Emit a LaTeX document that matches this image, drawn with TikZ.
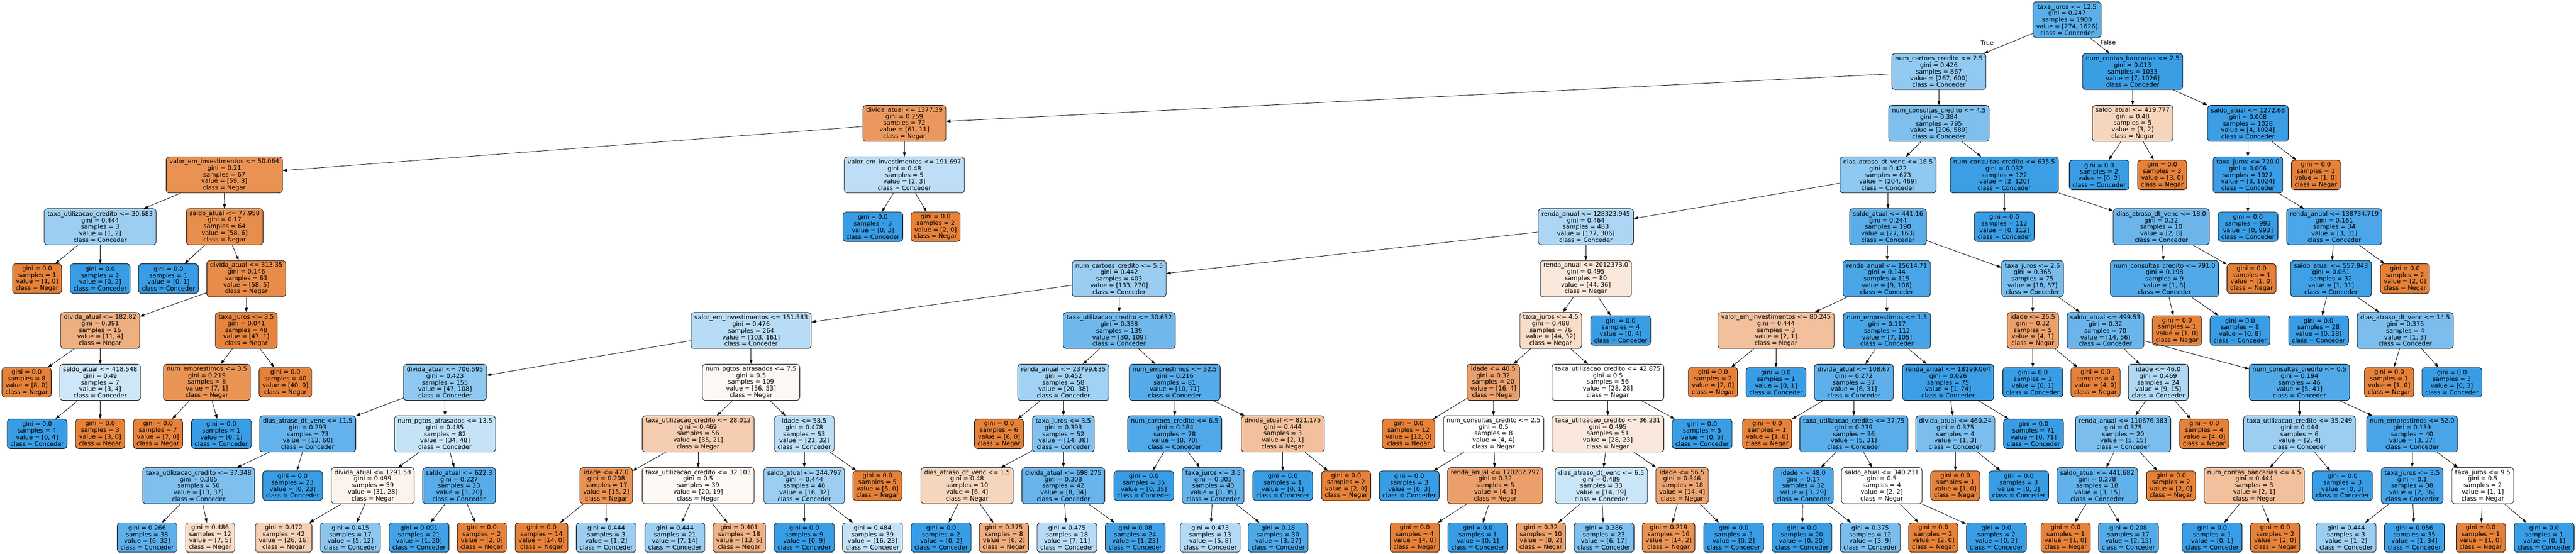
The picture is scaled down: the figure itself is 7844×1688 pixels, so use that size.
\documentclass[tikz,border=0pt]{standalone}
\usepackage{fontspec}
\setmainfont{DejaVu Sans}
\usetikzlibrary{arrows.meta}

\definecolor{negar}{HTML}{E58139}
\definecolor{conceder}{HTML}{399DE5}

% class and fill of a node from its value [a, b]
\newcommand{\setfill}[2]{%
  \ifnum#2>#1\relax\def\ccls{Conceder}\def\ccol{conceder}\else\def\ccls{Negar}\def\ccol{negar}\fi
  \pgfmathsetmacro{\cpct}{100*(abs(#1-#2)/max(#1,#2))}}
\newcommand{\splitn}[8]{\setfill{#7}{#8}%
  \node[splitbox, fill=\ccol!\cpct!white] (#1) at (#2,#3) {#4\\gini = #5\\samples = #6\\value = [#7, #8]\\class = \ccls};}
\newcommand{\leafn}[7]{\setfill{#6}{#7}%
  \node[leafbox, fill=\ccol!\cpct!white] (#1) at (#2,#3) {gini = #4\\samples = #5\\value = [#6, #7]\\class = \ccls};}

\begin{document}
\begin{tikzpicture}[x=1pt, y=-1pt,
	tbox/.style={draw, rounded corners=10pt, line width=1.33pt, align=center, inner xsep=10pt, inner ysep=0pt, font=\fontsize{18.6}{20}\selectfont},
	splitbox/.style={tbox, minimum height=110pt},
	leafbox/.style={tbox, minimum height=90pt},
	link/.style={line width=1.33pt, -{Triangle[length=13pt,width=9pt]}},
	lbl/.style={font=\fontsize{18.6}{20}\selectfont}]
	\useasboundingbox (0,0) rectangle (7844,1688);
	%\draw[help lines] (0,0) grid[step=100] (7844,1688);
	\splitn{n0}{6294}{60}{taxa\_juros <= 12.5}{0.247}{1900}{274}{1626}
	\splitn{n1}{5904}{218}{num\_cartoes\_credito <= 2.5}{0.426}{867}{267}{600}
	\splitn{n2}{2754}{376}{divida\_atual <= 1377.39}{0.259}{72}{61}{11}
	\splitn{n3}{683}{533}{valor\_em\_investimentos <= 50.064}{0.21}{67}{59}{8}
	\splitn{n4}{305}{691}{taxa\_utilizacao\_credito <= 30.683}{0.444}{3}{1}{2}
	\leafn{n5}{113}{849}{0.0}{1}{1}{0}
	\leafn{n6}{305}{849}{0.0}{2}{0}{2}
	\splitn{n7}{684}{691}{saldo\_atual <= 77.958}{0.17}{64}{58}{6}
	\leafn{n8}{513}{849}{0.0}{1}{0}{1}
	\splitn{n9}{750}{849}{divida\_atual <= 313.35}{0.146}{63}{58}{5}
	\splitn{n10}{305}{1007}{divida\_atual <= 182.82}{0.391}{15}{11}{4}
	\leafn{n11}{81}{1165}{0.0}{8}{8}{0}
	\splitn{n12}{305}{1165}{saldo\_atual <= 418.548}{0.49}{7}{3}{4}
	\leafn{n13}{113}{1322}{0.0}{4}{0}{4}
	\leafn{n14}{305}{1322}{0.0}{3}{3}{0}
	\splitn{n15}{750}{1007}{taxa\_juros <= 3.5}{0.041}{48}{47}{1}
	\splitn{n16}{630}{1165}{num\_emprestimos <= 3.5}{0.219}{8}{7}{1}
	\leafn{n17}{481}{1322}{0.0}{7}{7}{0}
	\leafn{n18}{674}{1322}{0.0}{1}{0}{1}
	\leafn{n19}{869}{1165}{0.0}{40}{40}{0}
	\splitn{n20}{2754}{533}{valor\_em\_investimentos <= 191.697}{0.48}{5}{2}{3}
	\leafn{n21}{2658}{691}{0.0}{3}{0}{3}
	\leafn{n22}{2849}{691}{0.0}{2}{2}{0}
	\splitn{n23}{5904}{376}{num\_consultas\_credito <= 4.5}{0.384}{795}{206}{589}
	\splitn{n24}{5749}{533}{dias\_atraso\_dt\_venc <= 16.5}{0.422}{673}{204}{469}
	\splitn{n25}{4829}{691}{renda\_anual <= 128323.945}{0.464}{483}{177}{306}
	\splitn{n26}{3408}{849}{num\_cartoes\_credito <= 5.5}{0.442}{403}{133}{270}
	\splitn{n27}{2287}{1007}{valor\_em\_investimentos <= 151.583}{0.476}{264}{103}{161}
	\splitn{n28}{1355}{1165}{divida\_atual <= 706.595}{0.423}{155}{47}{108}
	\splitn{n29}{937}{1322}{dias\_atraso\_dt\_venc <= 11.5}{0.293}{73}{13}{60}
	\splitn{n30}{605}{1480}{taxa\_utilizacao\_credito <= 37.348}{0.385}{50}{13}{37}
	\leafn{n31}{448}{1638}{0.266}{38}{6}{32}
	\leafn{n32}{640}{1638}{0.486}{12}{7}{5}
	\leafn{n33}{891}{1480}{0.0}{23}{0}{23}
	\splitn{n34}{1355}{1322}{num\_pgtos\_atrasados <= 13.5}{0.485}{82}{34}{48}
	\splitn{n35}{1135}{1480}{divida\_atual <= 1291.58}{0.499}{59}{31}{28}
	\leafn{n36}{864}{1638}{0.472}{42}{26}{16}
	\leafn{n37}{1067}{1638}{0.415}{17}{5}{12}
	\splitn{n38}{1398}{1480}{saldo\_atual <= 622.3}{0.227}{23}{3}{20}
	\leafn{n39}{1276}{1638}{0.091}{21}{1}{20}
	\leafn{n40}{1467}{1638}{0.0}{2}{2}{0}
	\splitn{n41}{2287}{1165}{num\_pgtos\_atrasados <= 7.5}{0.5}{109}{56}{53}
	\splitn{n42}{2126}{1322}{taxa\_utilizacao\_credito <= 28.012}{0.469}{56}{35}{21}
	\splitn{n43}{1846}{1480}{idade <= 47.0}{0.208}{17}{15}{2}
	\leafn{n44}{1649}{1638}{0.0}{14}{14}{0}
	\leafn{n45}{1846}{1638}{0.444}{3}{1}{2}
	\splitn{n46}{2126}{1480}{taxa\_utilizacao\_credito <= 32.103}{0.5}{39}{20}{19}
	\leafn{n47}{2055}{1638}{0.444}{21}{7}{14}
	\leafn{n48}{2251}{1638}{0.401}{18}{13}{5}
	\splitn{n49}{2449}{1322}{idade <= 58.5}{0.478}{53}{21}{32}
	\splitn{n50}{2449}{1480}{saldo\_atual <= 244.797}{0.444}{48}{16}{32}
	\leafn{n51}{2449}{1638}{0.0}{9}{0}{9}
	\leafn{n52}{2657}{1638}{0.484}{39}{16}{23}
	\leafn{n53}{2672}{1480}{0.0}{5}{5}{0}
	\splitn{n54}{3408}{1007}{taxa\_utilizacao\_credito <= 30.652}{0.338}{139}{30}{109}
	\splitn{n55}{3238}{1165}{renda\_anual <= 23799.635}{0.452}{58}{20}{38}
	\leafn{n56}{3042}{1322}{0.0}{6}{6}{0}
	\splitn{n57}{3238}{1322}{taxa\_juros <= 3.5}{0.393}{52}{14}{38}
	\splitn{n58}{2945}{1480}{dias\_atraso\_dt\_venc <= 1.5}{0.48}{10}{6}{4}
	\leafn{n59}{2866}{1638}{0.0}{2}{0}{2}
	\leafn{n60}{3057}{1638}{0.375}{8}{6}{2}
	\splitn{n61}{3238}{1480}{divida\_atual <= 698.275}{0.308}{42}{8}{34}
	\leafn{n62}{3249}{1638}{0.475}{18}{7}{11}
	\leafn{n63}{3457}{1638}{0.08}{24}{1}{23}
	\splitn{n64}{3577}{1165}{num\_emprestimos <= 52.5}{0.216}{81}{10}{71}
	\splitn{n65}{3577}{1322}{num\_cartoes\_credito <= 6.5}{0.184}{78}{8}{70}
	\leafn{n66}{3483}{1480}{0.0}{35}{0}{35}
	\splitn{n67}{3694}{1480}{taxa\_juros <= 3.5}{0.303}{43}{8}{35}
	\leafn{n68}{3685}{1638}{0.473}{13}{5}{8}
	\leafn{n69}{3892}{1638}{0.18}{30}{3}{27}
	\splitn{n70}{3906}{1322}{divida\_atual <= 821.175}{0.444}{3}{2}{1}
	\leafn{n71}{3906}{1480}{0.0}{1}{0}{1}
	\leafn{n72}{4099}{1480}{0.0}{2}{2}{0}
	\splitn{n73}{4829}{849}{renda\_anual <= 2012373.0}{0.495}{80}{44}{36}
	\splitn{n74}{4722}{1007}{taxa\_juros <= 4.5}{0.488}{76}{44}{32}
	\splitn{n75}{4547}{1165}{idade <= 40.5}{0.32}{20}{16}{4}
	\leafn{n76}{4289}{1322}{0.0}{12}{12}{0}
	\splitn{n77}{4548}{1322}{num\_consultas\_credito <= 2.5}{0.5}{8}{4}{4}
	\leafn{n78}{4291}{1480}{0.0}{3}{0}{3}
	\splitn{n79}{4553}{1480}{renda\_anual <= 170282.797}{0.32}{5}{4}{1}
	\leafn{n80}{4308}{1638}{0.0}{4}{4}{0}
	\leafn{n81}{4500}{1638}{0.0}{1}{0}{1}
	\splitn{n82}{4896}{1165}{taxa\_utilizacao\_credito <= 42.875}{0.5}{56}{28}{28}
	\splitn{n83}{4896}{1322}{taxa\_utilizacao\_credito <= 36.231}{0.495}{51}{28}{23}
	\splitn{n84}{4876}{1480}{dias\_atraso\_dt\_venc <= 6.5}{0.489}{33}{14}{19}
	\leafn{n85}{4692}{1638}{0.32}{10}{8}{2}
	\leafn{n86}{4884}{1638}{0.386}{23}{6}{17}
	\splitn{n87}{5122}{1480}{idade <= 56.5}{0.346}{18}{14}{4}
	\leafn{n88}{5081}{1638}{0.219}{16}{14}{2}
	\leafn{n89}{5279}{1638}{0.0}{2}{0}{2}
	\leafn{n90}{5183}{1322}{0.0}{5}{0}{5}
	\leafn{n91}{4935}{1007}{0.0}{4}{0}{4}
	\splitn{n92}{5749}{691}{saldo\_atual <= 441.16}{0.244}{190}{27}{163}
	\splitn{n93}{5745}{849}{renda\_anual <= 15614.71}{0.144}{115}{9}{106}
	\splitn{n94}{5408}{1007}{valor\_em\_investimentos <= 80.245}{0.444}{3}{2}{1}
	\leafn{n95}{5216}{1165}{0.0}{2}{2}{0}
	\leafn{n96}{5408}{1165}{0.0}{1}{0}{1}
	\splitn{n97}{5746}{1007}{num\_emprestimos <= 1.5}{0.117}{112}{7}{105}
	\splitn{n98}{5645}{1165}{divida\_atual <= 108.67}{0.272}{37}{6}{31}
	\leafn{n99}{5381}{1322}{0.0}{1}{1}{0}
	\splitn{n100}{5645}{1322}{taxa\_utilizacao\_credito <= 37.75}{0.239}{36}{5}{31}
	\splitn{n101}{5491}{1480}{idade <= 48.0}{0.17}{32}{3}{29}
	\leafn{n102}{5487}{1638}{0.0}{20}{0}{20}
	\leafn{n103}{5695}{1638}{0.375}{12}{3}{9}
	\splitn{n104}{5730}{1480}{saldo\_atual <= 340.231}{0.5}{4}{2}{2}
	\leafn{n105}{5887}{1638}{0.0}{2}{2}{0}
	\leafn{n106}{6079}{1638}{0.0}{2}{0}{2}
	\splitn{n107}{5932}{1165}{renda\_anual <= 18199.064}{0.026}{75}{1}{74}
	\splitn{n108}{5954}{1322}{divida\_atual <= 460.24}{0.375}{4}{1}{3}
	\leafn{n109}{5954}{1480}{0.0}{1}{1}{0}
	\leafn{n110}{6147}{1480}{0.0}{3}{0}{3}
	\leafn{n111}{6192}{1322}{0.0}{71}{0}{71}
	\splitn{n112}{6189}{849}{taxa\_juros <= 2.5}{0.365}{75}{18}{57}
	\splitn{n113}{6190}{1007}{idade <= 26.5}{0.32}{5}{4}{1}
	\leafn{n114}{6190}{1165}{0.0}{1}{0}{1}
	\leafn{n115}{6381}{1165}{0.0}{4}{4}{0}
	\splitn{n116}{6411}{1007}{saldo\_atual <= 499.53}{0.32}{70}{14}{56}
	\splitn{n117}{6572}{1165}{idade <= 46.0}{0.469}{24}{9}{15}
	\splitn{n118}{6465}{1322}{renda\_anual <= 110676.383}{0.375}{20}{5}{15}
	\splitn{n119}{6386}{1480}{saldo\_atual <= 441.682}{0.278}{18}{3}{15}
	\leafn{n120}{6290}{1638}{0.0}{1}{1}{0}
	\leafn{n121}{6481}{1638}{0.208}{17}{2}{15}
	\leafn{n122}{6611}{1480}{0.0}{2}{2}{0}
	\leafn{n123}{6712}{1322}{0.0}{4}{4}{0}
	\splitn{n124}{7002}{1165}{num\_consultas\_credito <= 0.5}{0.194}{46}{5}{41}
	\splitn{n125}{7002}{1322}{taxa\_utilizacao\_credito <= 35.249}{0.444}{6}{2}{4}
	\splitn{n126}{6864}{1480}{num\_contas\_bancarias <= 4.5}{0.444}{3}{2}{1}
	\leafn{n127}{6736}{1638}{0.0}{1}{0}{1}
	\leafn{n128}{6928}{1638}{0.0}{2}{2}{0}
	\leafn{n129}{7133}{1480}{0.0}{3}{0}{3}
	\splitn{n130}{7345}{1322}{num\_emprestimos <= 52.0}{0.139}{40}{3}{37}
	\splitn{n131}{7345}{1480}{taxa\_juros <= 3.5}{0.1}{38}{2}{36}
	\leafn{n132}{7144}{1638}{0.444}{3}{1}{2}
	\leafn{n133}{7352}{1638}{0.056}{35}{1}{34}
	\splitn{n134}{7560}{1480}{taxa\_juros <= 9.5}{0.5}{2}{1}{1}
	\leafn{n135}{7554}{1638}{0.0}{1}{1}{0}
	\leafn{n136}{7747}{1638}{0.0}{1}{0}{1}
	\splitn{n137}{6103}{533}{num\_consultas\_credito <= 635.5}{0.032}{122}{2}{120}
	\leafn{n138}{6103}{691}{0.0}{112}{0}{112}
	\splitn{n139}{6581}{691}{dias\_atraso\_dt\_venc <= 18.0}{0.32}{10}{2}{8}
	\splitn{n140}{6591}{849}{num\_consultas\_credito <= 791.0}{0.198}{9}{1}{8}
	\leafn{n141}{6629}{1007}{0.0}{1}{1}{0}
	\leafn{n142}{6821}{1007}{0.0}{8}{0}{8}
	\leafn{n143}{6856}{849}{0.0}{1}{1}{0}
	\splitn{n144}{6494}{218}{num\_contas\_bancarias <= 2.5}{0.013}{1033}{7}{1026}
	\splitn{n145}{6494}{376}{saldo\_atual <= 419.777}{0.48}{5}{3}{2}
	\leafn{n146}{6392}{533}{0.0}{2}{0}{2}
	\leafn{n147}{6584}{533}{0.0}{3}{3}{0}
	\splitn{n148}{6845}{376}{saldo\_atual <= 1272.68}{0.008}{1028}{4}{1024}
	\splitn{n149}{6845}{533}{taxa\_juros <= 720.0}{0.006}{1027}{3}{1024}
	\leafn{n150}{6845}{691}{0.0}{993}{0}{993}
	\splitn{n151}{7108}{691}{renda\_anual <= 138734.719}{0.161}{34}{3}{31}
	\splitn{n152}{7098}{849}{saldo\_atual <= 557.943}{0.061}{32}{1}{31}
	\leafn{n153}{7060}{1007}{0.0}{28}{0}{28}
	\splitn{n154}{7324}{1007}{dias\_atraso\_dt\_venc <= 14.5}{0.375}{4}{1}{3}
	\leafn{n155}{7275}{1165}{0.0}{1}{1}{0}
	\leafn{n156}{7466}{1165}{0.0}{3}{0}{3}
	\leafn{n157}{7323}{849}{0.0}{2}{2}{0}
	\leafn{n158}{7052}{533}{0.0}{1}{1}{0}
	\foreach \p/\c in {0/1, 0/144, 1/2, 1/23, 2/3, 2/20, 3/4, 3/7, 4/5, 4/6, 7/8, 7/9,
		9/10, 9/15, 10/11, 10/12, 12/13, 12/14, 15/16, 15/19, 16/17, 16/18, 20/21, 20/22,
		23/24, 23/137, 24/25, 24/92, 25/26, 25/73, 26/27, 26/54, 27/28, 27/41, 28/29, 28/34,
		29/30, 29/33, 30/31, 30/32, 34/35, 34/38, 35/36, 35/37, 38/39, 38/40, 41/42, 41/49,
		42/43, 42/46, 43/44, 43/45, 46/47, 46/48, 49/50, 49/53, 50/51, 50/52, 54/55, 54/64,
		55/56, 55/57, 57/58, 57/61, 58/59, 58/60, 61/62, 61/63, 64/65, 64/70, 65/66, 65/67,
		67/68, 67/69, 70/71, 70/72, 73/74, 73/91, 74/75, 74/82, 75/76, 75/77, 77/78, 77/79,
		79/80, 79/81, 82/83, 82/90, 83/84, 83/87, 84/85, 84/86, 87/88, 87/89, 92/93, 92/112,
		93/94, 93/97, 94/95, 94/96, 97/98, 97/107, 98/99, 98/100, 100/101, 100/104,
		101/102, 101/103, 104/105, 104/106, 107/108, 107/111, 108/109, 108/110,
		112/113, 112/116, 113/114, 113/115, 116/117, 116/124, 117/118, 117/123,
		118/119, 118/122, 119/120, 119/121, 124/125, 124/130, 125/126, 125/129,
		126/127, 126/128, 130/131, 130/134, 131/132, 131/133, 134/135, 134/136,
		137/138, 137/139, 139/140, 139/143, 140/141, 140/142, 144/145, 144/148,
		145/146, 145/147, 148/149, 148/158, 149/150, 149/151, 151/152, 151/157,
		152/153, 152/154, 154/155, 154/156}
		\draw[link] (n\p) -- (n\c);
	\node[lbl] (ltrue) at (6051,131) {True};
	\node[lbl] (lfalse) at (6419,129) {False};
\end{tikzpicture}
\end{document}
